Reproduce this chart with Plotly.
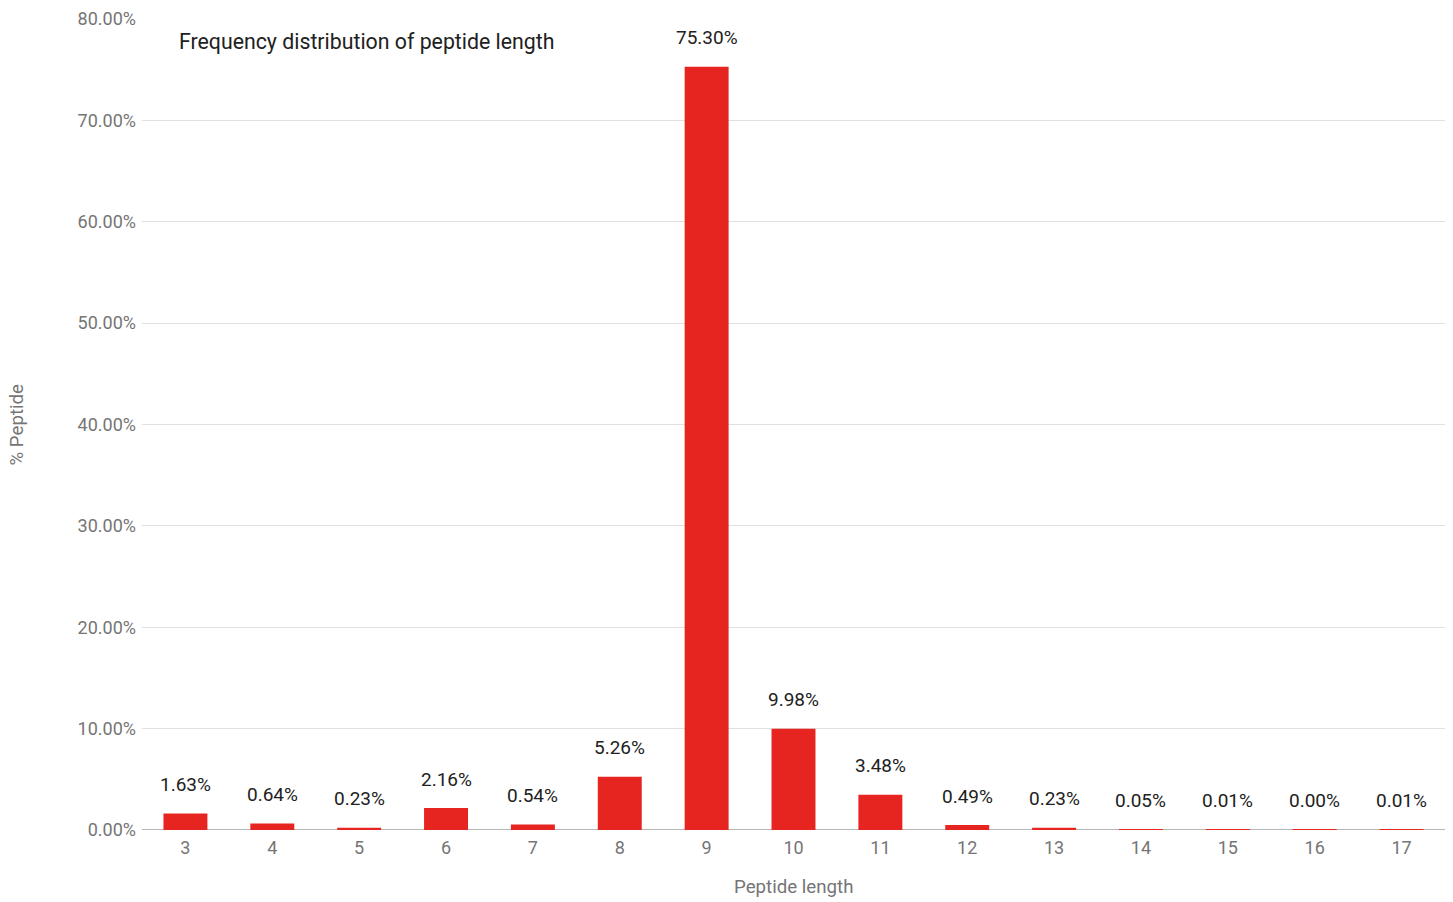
import plotly.graph_objects as go

# Peptide length categories and their share of all peptides (%)
lengths = [3, 4, 5, 6, 7, 8, 9, 10, 11, 12, 13, 14, 15, 16, 17]
percent = [1.63, 0.64, 0.23, 2.16, 0.54, 5.26, 75.30, 9.98, 3.48, 0.49, 0.23, 0.05, 0.01, 0.004, 0.01]

y_ticks = [0, 10, 20, 30, 40, 50, 60, 70, 80]

BAR = "#e62521"
TICK = "#757575"
DARK = "#212121"
FONT = "Roboto"

fig = go.Figure()
fig.add_trace(go.Bar(
    x=lengths,
    y=percent,
    width=0.506,
    marker=dict(color=BAR, line=dict(width=0)),
    cliponaxis=False,
    hoverinfo="skip",
))

annotations = []
# value labels above each bar
for x, v in zip(lengths, percent):
    annotations.append(dict(
        x=x, y=v, xref="x", yref="y",
        text=f"{v:.2f}%", showarrow=False,
        xanchor="center", yanchor="bottom", yshift=15.5,
        font=dict(family=FONT, size=19, color=DARK),
    ))

# chart title inside the plot area
annotations.append(dict(
    x=0.0269, y=0.972, xref="paper", yref="paper",
    text="Frequency distribution of peptide length", showarrow=False,
    xanchor="left", yanchor="middle",
    font=dict(family=FONT, size=21.3, color=DARK),
))
# axis titles
annotations.append(dict(
    x=0.5, y=0, xref="paper", yref="paper",
    text="Peptide length", showarrow=False,
    xanchor="center", yanchor="middle", yshift=-57,
    font=dict(family=FONT, size=18.7, color=TICK),
))
annotations.append(dict(
    x=0, y=0.5, xref="paper", yref="paper",
    text="% Peptide", showarrow=False, textangle=-90,
    xanchor="center", yanchor="middle", xshift=-126,
    font=dict(family=FONT, size=18.7, color=TICK),
))

fig.update_layout(
    width=1453, height=902,
    margin=dict(l=142, r=8, t=17, b=72),
    paper_bgcolor="white", plot_bgcolor="white",
    showlegend=False,
    font=dict(family=FONT, size=18, color=TICK),
    annotations=annotations,
    # baseline drawn beneath the bars
    shapes=[dict(
        type="line", xref="paper", yref="y", x0=0, x1=1, y0=0, y1=0,
        line=dict(color="#9e9e9e", width=1.5), layer="below",
    )],
    xaxis=dict(
        range=[2.5, 17.5],
        tickmode="array", tickvals=lengths, ticktext=[str(v) for v in lengths],
        showgrid=False, zeroline=False, showline=False,
        ticks="", ticklabelstandoff=5,
        tickfont=dict(family=FONT, size=18, color=TICK),
    ),
    yaxis=dict(
        range=[0, 80],
        tickmode="array", tickvals=y_ticks,
        ticktext=[f"{v:.2f}%" for v in y_ticks],
        showgrid=True, gridcolor="#e0e0e0", gridwidth=1,
        zeroline=False, showline=False, ticks="", ticklabelstandoff=5,
        tickfont=dict(family=FONT, size=18, color=TICK),
    ),
)

fig.write_html("out.html")
